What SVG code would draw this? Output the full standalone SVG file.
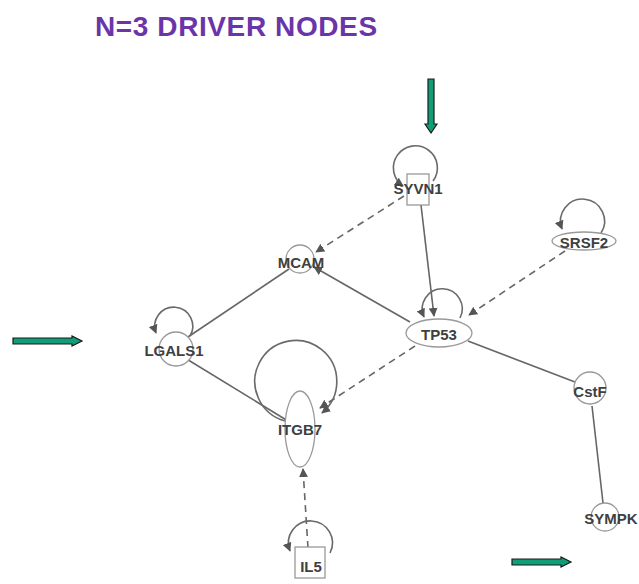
<svg xmlns="http://www.w3.org/2000/svg" width="639" height="584" viewBox="0 0 639 584">
<style>
.title{font-family:"Liberation Sans",Arial,sans-serif;font-weight:bold;font-size:28px;fill:#6a35a8;letter-spacing:0.6px}
.lbl{font-family:"Liberation Sans",Arial,sans-serif;font-weight:bold;font-size:15px;fill:#404040;text-anchor:middle;dominant-baseline:central}
.shape{fill:#fff;stroke:#999;stroke-width:1.3}
.edge{fill:none;stroke:#666;stroke-width:1.6}
.dash{stroke-dasharray:7 5}
.loop{fill:none;stroke:#6a6a6a;stroke-width:1.6}
.garrow{fill:#0f9e78;stroke:#1a1a1a;stroke-width:1.2}
</style>
<defs>
<marker id="ah" viewBox="0 0 10 10" refX="9" refY="5" markerWidth="9" markerHeight="9" markerUnits="userSpaceOnUse" orient="auto">
<path d="M0,0 L10,5 L0,10 z" fill="#555"/>
</marker>
</defs>
<rect width="639" height="584" fill="#fff"/>
<text class="title" x="95" y="36">N=3 DRIVER NODES</text>

<g id="green-arrows">
<path class="garrow" d="M428,79 L434,79 L434,124 L437,124 L431,133 L425,124 L428,124 z"/>
<path class="garrow" d="M13,338 L72,338 L72,336 L82,341 L72,346 L72,344 L13,344 z"/>
<path class="garrow" d="M512,559 L561,559 L561,557 L571,562 L561,567 L561,565 L512,565 z"/>
</g>

<g id="connectors">
<line class="edge dash" x1="404" y1="196" x2="316" y2="252" marker-end="url(#ah)"/>
<line class="edge" x1="421" y1="205" x2="434" y2="316" marker-end="url(#ah)"/>
<line class="edge dash" x1="565" y1="251" x2="469" y2="315" marker-end="url(#ah)"/>
<line class="edge" x1="410" y1="322" x2="314" y2="267" marker-end="url(#ah)"/>
<line class="edge" x1="289" y1="269" x2="185" y2="339"/>
<line class="edge" x1="185" y1="358" x2="288" y2="421"/>
<line class="edge dash" x1="415" y1="346" x2="320" y2="408" marker-end="url(#ah)"/>
<line class="edge" x1="468" y1="341" x2="575" y2="382"/>
<line class="edge" x1="592" y1="406" x2="603" y2="503"/>
<line class="edge dash" x1="308" y1="548" x2="303" y2="469" marker-end="url(#ah)"/>
<path class="loop" d="M433,181 A22,22 0 1,0 403,186" marker-end="url(#ah)"/>
<path class="loop" d="M601,233 A22,22 0 1,0 562,229" marker-end="url(#ah)"/>
<path class="loop" d="M460,318 A20,20 0 1,0 424,317" marker-end="url(#ah)"/>
<path class="loop" d="M190,336 A19,19 0 1,0 156,333" marker-end="url(#ah)"/>
<path class="loop" d="M285,421 A41,41 0 1,1 322,413" marker-end="url(#ah)"/>
<path class="loop" d="M330,553 A22,22 0 1,0 290,551" marker-end="url(#ah)"/>
</g>

<g id="SYVN1">
<rect class="shape" x="407" y="174" width="22" height="31"/>
<text class="lbl" x="418" y="188">SYVN1</text>
</g>
<g id="MCAM">
<circle class="shape" cx="300" cy="259" r="14"/>
<text class="lbl" x="301" y="262">MCAM</text>
</g>
<g id="SRSF2">
<ellipse class="shape" cx="584" cy="241" rx="32" ry="9"/>
<text class="lbl" x="584" y="242">SRSF2</text>
</g>
<g id="TP53">
<ellipse class="shape" cx="439" cy="333" rx="33" ry="14"/>
<text class="lbl" x="439" y="334">TP53</text>
</g>
<g id="LGALS1">
<circle class="shape" cx="176" cy="349" r="17"/>
<text class="lbl" x="174" y="350">LGALS1</text>
</g>
<g id="ITGB7">
<ellipse class="shape" cx="300" cy="429" rx="15" ry="38"/>
<text class="lbl" x="300" y="429">ITGB7</text>
</g>
<g id="CstF">
<circle class="shape" cx="590" cy="388" r="16"/>
<text class="lbl" x="590" y="391">CstF</text>
</g>
<g id="SYMPK">
<circle class="shape" cx="605" cy="517" r="14"/>
<text class="lbl" x="611" y="518">SYMPK</text>
</g>
<g id="IL5">
<rect class="shape" x="295" y="547" width="30" height="31"/>
<text class="lbl" x="311" y="566">IL5</text>
</g>
</svg>
